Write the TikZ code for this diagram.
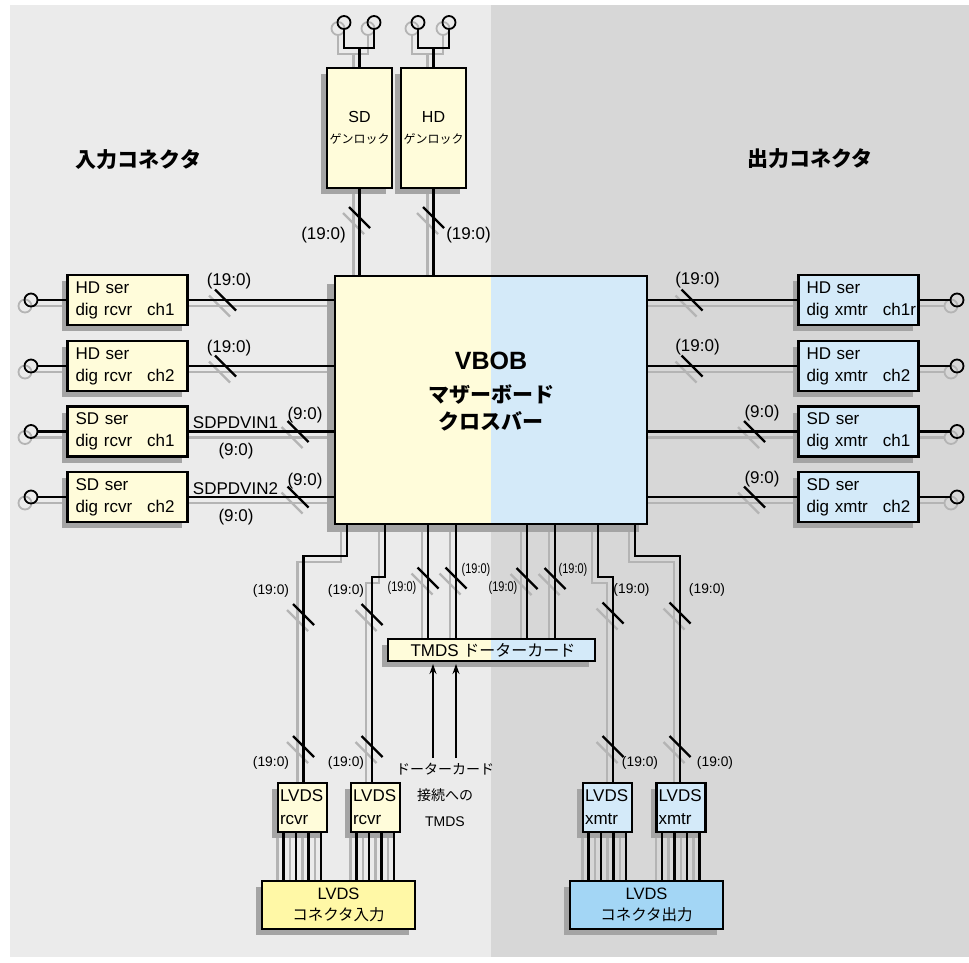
\documentclass[tikz,border=0pt]{standalone}
\usepackage{fontspec}
\setmainfont{Liberation Sans}
\newfontfamily\jp{Noto Sans CJK JP}
\usepackage{graphicx}
\usetikzlibrary{shadows,calc,arrows.meta}
\pgfdeclarelayer{bgl}
\pgfdeclarelayer{shl}
\pgfsetlayers{bgl,shl,main}
\definecolor{bgL}{HTML}{EBEBEB}
\definecolor{bgR}{HTML}{D7D7D7}
\definecolor{yel}{HTML}{FFFCDA}
\definecolor{blu}{HTML}{D4EAF9}
\definecolor{lvy}{HTML}{FFF8A6}
\definecolor{lvb}{HTML}{A3D6F5}
\definecolor{wsh}{HTML}{B4B4B4}
\definecolor{bsh}{HTML}{A4A4A4}
\tikzset{
  wire/.style={line width=2.4pt, draw=black},
  wshadow/.style={line width=2.4pt, draw=wsh},
  box/.style={draw, line width=2.4pt, inner sep=0pt, outer sep=0pt,
    drop shadow={shadow xshift=-#1pt, shadow yshift=-#1pt, fill=bsh, opacity=1}},
  box/.default=6,
  ybox/.style={box, fill=yel},
  bbox/.style={box, fill=blu},
  io/.style={minimum height=50pt, text width=104pt, inner xsep=8pt, align=left,
    font=\fontsize{17}{22}\selectfont},
  gl/.style={minimum width=65pt, minimum height=120pt, align=center,
    font=\fontsize{16}{21}\selectfont},
  lv/.style={minimum height=49pt, text width=45pt, inner xsep=2pt, align=left,
    font=\fontsize{17}{23}\selectfont},
  conn/.style={minimum width=153pt, minimum height=48pt, align=center,
    font=\fontsize{16.5}{21}\selectfont},
  ant/.style={circle, draw, line width=1.8pt, minimum size=13pt, inner sep=0pt, outer sep=0pt},
  lab/.style={inner sep=0pt, font=\fontsize{17}{20}\selectfont},
  labs/.style={inner sep=0pt, font=\fontsize{13.8}{16}\selectfont},
  head/.style={inner sep=0pt, font=\jp\bfseries\fontsize{21}{25}\selectfont},
  arr/.style={line width=1.3pt, -{Stealth[length=10pt,width=7pt]}, shorten >=3pt},
}
\newcommand\wire[1]{%
  \begin{pgfonlayer}{shl}\draw[wshadow,transform canvas={shift={(-6pt,-6pt)}}] #1;\end{pgfonlayer}%
  \draw[wire] #1;}
\newcommand\busmark[2]{\wire{(#1-10.5,#2-10.5) -- (#1+10.5,#2+10.5)}}
\newcommand\antsh[1]{\begin{pgfonlayer}{shl}\draw[wsh, line width=1.8pt, transform canvas={shift={(-6pt,-6pt)}}] (#1.center) circle[radius=6.5pt];\end{pgfonlayer}}
\newcommand\smalllab[1]{\scalebox{0.78}[1]{#1}}

\begin{document}
\begin{tikzpicture}[x=1pt,y=-1pt,font=\fontsize{17}{22}\selectfont]
\useasboundingbox (0,0) rectangle (969,962);
\begin{pgfonlayer}{bgl}
  \fill[bgL] (10,5) rectangle (491,957);
  \fill[bgR] (491,5) rectangle (969,957);
\end{pgfonlayer}

% headings
\node[head] (hin) at (138.5,160) {入力コネクタ};
\node[head] (hout) at (810,159) {出力コネクタ};

% VBOB
\node[box=8, fill=yel, minimum width=312pt, minimum height=248pt] (vbob) at (491,400) {};
\fill[blu] (491,0 |- vbob.north) rectangle (vbob.south east);
\draw[line width=2.4pt] (vbob.north west) rectangle (vbob.south east);
\node[inner sep=0pt, font=\bfseries\fontsize{25}{25}\selectfont] (vt1) at (491,361) {VBOB};
\node[inner sep=0pt, font=\jp\bfseries\fontsize{21}{21}\selectfont] (vt2) at (491,395) {マザーボード};
\node[inner sep=0pt, font=\jp\bfseries\fontsize{21}{21}\selectfont] (vt3) at (491,421) {クロスバー};

% genlock
\node[ybox, gl] (sdg) at (359.5,128) {SD\\{\jp\fontsize{12}{21}\selectfont ゲンロック}};
\node[ybox, gl] (hdg) at (433.5,128) {HD\\{\jp\fontsize{12}{21}\selectfont ゲンロック}};
\node[ant] (a1) at (344,22.5) {};
\node[ant] (a2) at (374,22.5) {};
\node[ant] (a3) at (418,22.5) {};
\node[ant] (a4) at (449,22.5) {};
\antsh{a1}\antsh{a2}\antsh{a3}\antsh{a4}
\coordinate (j1) at ($(sdg.north)+(0,-20)$);
\coordinate (j2) at ($(hdg.north)+(0,-20)$);
\wire{(sdg.north) -- (j1)}
\wire{(a1.south) |- (j1) -| (a2.south)}
\wire{(hdg.north) -- (j2)}
\wire{(a3.south) |- (j2) -| (a4.south)}
\wire{(sdg.south) -- (sdg.south |- vbob.north)}
\wire{(hdg.south) -- (hdg.south |- vbob.north)}
\busmark{359.5}{217.5}
\busmark{433.5}{217.5}
\node[lab] (lg1) at (323.5,235) {(19:0)};
\node[lab] (lg2) at (468.5,235) {(19:0)};

% left inputs
\node[ybox,io] (hr1) at (127.5,300) {HD ser\\\mbox{dig rcvr\hspace{15pt}ch1}};
\node[ybox,io] (hr2) at (127.5,366) {HD ser\\\mbox{dig rcvr\hspace{15pt}ch2}};
\node[ybox,io] (sr1) at (127.5,431.5) {SD ser\\\mbox{dig rcvr\hspace{15pt}ch1}};
\node[ybox,io] (sr2) at (127.5,497) {SD ser\\\mbox{dig rcvr\hspace{15pt}ch2}};
\node[ant] (cl1) at (31,300) {};
\node[ant] (cl2) at (31,366) {};
\node[ant] (cl3) at (31,431.5) {};
\node[ant] (cl4) at (31,497) {};
\antsh{cl1}\antsh{cl2}\antsh{cl3}\antsh{cl4}
\foreach \c/\b in {cl1/hr1, cl2/hr2, cl3/sr1, cl4/sr2}{
  \wire{(\c) -- (\b)}
  \wire{(\b.east) -- (\b.east -| vbob.west)}
}
\busmark{225.5}{300}
\busmark{225.5}{366}
\busmark{298}{431.5}
\busmark{298}{497}
\node[lab] (ll1) at (229,281) {(19:0)};
\node[lab] (ll2) at (229,348) {(19:0)};
\node[lab] (ll3) at (235.5,423) {SDPDVIN1};
\node[lab] (ll4) at (305,415) {(9:0)};
\node[lab] (ll5) at (236,451) {(9:0)};
\node[lab] (ll6) at (235.5,489) {SDPDVIN2};
\node[lab] (ll7) at (305,481) {(9:0)};
\node[lab] (ll8) at (236,517) {(9:0)};

% right outputs
\node[bbox,io] (hx1) at (858.5,300) {HD ser\\\mbox{dig xmtr\hspace{15pt}ch1r}};
\node[bbox,io] (hx2) at (858.5,366) {HD ser\\\mbox{dig xmtr\hspace{15pt}ch2}};
\node[bbox,io] (sx1) at (858.5,431.5) {SD ser\\\mbox{dig xmtr\hspace{15pt}ch1}};
\node[bbox,io] (sx2) at (858.5,497) {SD ser\\\mbox{dig xmtr\hspace{15pt}ch2}};
\node[ant] (cr1) at (957,300) {};
\node[ant] (cr2) at (957,366) {};
\node[ant] (cr3) at (957,431.5) {};
\node[ant] (cr4) at (957,497) {};
\antsh{cr1}\antsh{cr2}\antsh{cr3}\antsh{cr4}
\foreach \c/\b in {cr1/hx1, cr2/hx2, cr3/sx1, cr4/sx2}{
  \wire{(\b) -- (\c)}
  \wire{(vbob.east |- \b.west) -- (\b.west)}
}
\busmark{692}{300}
\busmark{692}{366}
\busmark{754.5}{431.5}
\busmark{754.5}{497}
\node[lab] (lr1) at (697.5,280) {(19:0)};
\node[lab] (lr2) at (697.5,347.5) {(19:0)};
\node[lab] (lr3) at (762,413) {(9:0)};
\node[lab] (lr4) at (762,479) {(9:0)};

% TMDS daughter card
\node[ybox, minimum width=207pt, minimum height=22pt] (tmds) at (491.5,650) {};
\fill[blu] (491,0 |- tmds.north) rectangle (tmds.south east);
\draw[line width=2.4pt] (tmds.north west) rectangle (tmds.south east);
\node[inner sep=0pt, font=\fontsize{17}{20}\selectfont] (tmdst) at (493,650) {TMDS {\jp\fontsize{16}{20}\selectfont ドーターカード}};

% bottom connection points on VBOB
\foreach \n/\d in {1/12, 2/50, 3/93, 4/121, 5/192, 6/220, 7/263, 8/300}{
  \coordinate (vb\n) at ($(vbob.south west)+(\d,0)$);
}
\foreach \n in {3,4,5,6}{
  \wire{(vb\n) -- (vb\n |- tmds.north)}
}
\busmark{428}{578}
\busmark{456}{578}
\busmark{527}{578.5}
\busmark{555}{578.5}
\node[inner sep=0pt, font=\fontsize{14}{16}\selectfont] (lb3) at (402,588) {\smalllab{(19:0)}};
\node[inner sep=0pt, font=\fontsize{14}{16}\selectfont] (lb4) at (476,570) {\smalllab{(19:0)}};
\node[inner sep=0pt, font=\fontsize{14}{16}\selectfont] (lb5) at (503,588) {\smalllab{(19:0)}};
\node[inner sep=0pt, font=\fontsize{14}{16}\selectfont] (lb6) at (573,570) {\smalllab{(19:0)}};

% LVDS rcvr / xmtr
\node[ybox,lv] (rc1) at (302.5,807.5) {LVDS\\rcvr};
\node[ybox,lv] (rc2) at (375.5,807.5) {LVDS\\rcvr};
\node[bbox,lv] (xm1) at (607.5,807.5) {LVDS\\xmtr};
\node[bbox,lv] (xm2) at (681,807.5) {LVDS\\xmtr};
\coordinate (r1in) at ($(rc1.north)+(1,0)$);
\coordinate (r2in) at ($(rc2.north)+(-3.5,0)$);
\coordinate (x1in) at ($(xm1.north)+(5.5,0)$);
\coordinate (x2in) at ($(xm2.north)+(-1,0)$);
\wire{(vb1) |- (r1in |- 0,556) -- (r1in)}
\wire{(vb2) |- (r2in |- 0,577) -- (r2in)}
\wire{(vb7) |- (x1in |- 0,577) -- (x1in)}
\wire{(vb8) |- (x2in |- 0,556) -- (x2in)}
\busmark{303.5}{614.5}
\busmark{372}{614.5}
\busmark{613}{613}
\busmark{680}{613}
\busmark{303.5}{746.5}
\busmark{372}{746.5}
\busmark{613}{746.5}
\busmark{680}{746.5}
\node[labs] (lb1) at (271,590.5) {(19:0)};
\node[labs] (lb2) at (346,590.5) {(19:0)};
\node[labs] (lb7) at (631.5,590) {(19:0)};
\node[labs] (lb8) at (707,590) {(19:0)};
\node[labs] (lc1) at (271,762.5) {(19:0)};
\node[labs] (lc2) at (346,762.5) {(19:0)};
\node[labs] (lc3) at (640,762.5) {(19:0)};
\node[labs] (lc4) at (715,762.5) {(19:0)};

% LVDS connectors
\node[box, fill=lvy, conn] (lin) at (338.5,905) {LVDS\\{\jp\fontsize{15.5}{21}\selectfont コネクタ入力}};
\node[box, fill=lvb, conn] (lout) at (646.5,905) {LVDS\\{\jp\fontsize{15.5}{21}\selectfont コネクタ出力}};
\foreach \b/\c in {rc1/lin, rc2/lin, xm1/lout, xm2/lout}{
  \foreach \d in {-19,-6.5,6,18.5}{
    \coordinate (tt) at ($(\b.south)+(\d,0)$);
    \wire{(tt) -- (tt |- \c.north)}
  }
}

% TMDS input arrows
\coordinate (ar1) at (433,758);
\coordinate (ar2) at (456,758);
\draw[arr] (ar1) -- (ar1 |- tmds.south);
\draw[arr] (ar2) -- (ar2 |- tmds.south);
\node[inner sep=0pt, align=center, font=\fontsize{14}{26}\selectfont] (dl) at (445,795)
  {{\jp ドーターカード}\\{\jp 接続への}\\TMDS};
\end{tikzpicture}
\end{document}
